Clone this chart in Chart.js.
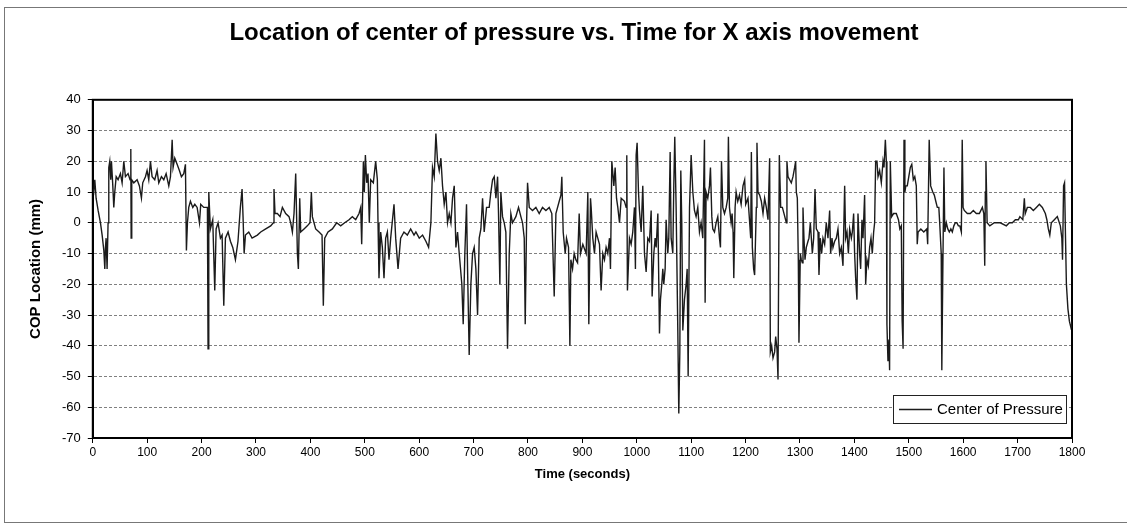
<!DOCTYPE html>
<html>
<head>
<meta charset="utf-8">
<script src="https://cdn.jsdelivr.net/npm/chart.js@4.4.1/dist/chart.umd.min.js"></script>
<style>
  html, body { margin: 0; padding: 0; background: #fff; }
  #wrap { position: relative; width: 1131px; height: 529px; overflow: hidden; }
  #frame { position: absolute; left: 4px; top: 7px; width: 1122px; height: 514px;
           border: 1px solid #777; border-right: none; pointer-events: none; }
</style>
</head>
<body>
<div id="wrap">
  <canvas id="cop" width="1131" height="529"></canvas>
  <div id="frame"></div>
</div>
<script>
// time in seconds
const seconds = [
  0, 1.8, 3.7, 6.1, 9.8, 14.1, 17.2, 20.3, 22.1, 23.3,
  24.5, 26.3, 28.1, 29.4, 31.2, 33, 34.3, 36.8, 38.6, 40.4,
  43, 46.5, 50.8, 53.9, 57, 60, 64.9, 68.5, 69.9, 70.5,
  71.6, 75.4, 81.5, 85.7, 89.4, 91.8, 96.8, 99.8, 102.9, 106,
  109, 113.9, 118.2, 121.3, 126.2, 130.5, 134.8, 139.7, 142.8, 145.9,
  147.6, 150.7, 155, 159.2, 162.9, 167.2, 170.3, 172.1, 174, 176.4,
  179.5, 183.8, 187.5, 191.8, 196.1, 198.4, 204, 208.2, 210.7, 211.9,
  213.2, 216.2, 220.5, 224.2, 226.7, 230.3, 234.6, 237.7, 240.8, 243.8,
  248.7, 253, 257.3, 262.2, 266.9, 271.3, 274.4, 276.2, 278.2, 280.6,
  286.7, 292.8,
  302.5, 308.7, 317.9, 327, 331.9, 333.1, 335, 339.3, 344.2, 348.5,
  354.6, 360.7, 363.8, 366.9, 369.9, 373, 376.1, 377.9, 380.4, 382.2,
  388.3, 394.4, 399.3, 401.8, 403.6, 409.7, 415.9, 421.4, 423.8, 426.3,
  432.4, 440.4, 448.3, 455.7, 463, 471, 477.1, 483.3, 489.4, 492.5,
  494.3, 497.4, 499.1, 501.1, 503.5, 505.9, 508.3, 510.8, 515.7, 520,
  523.1, 524.3, 526.1, 529.2, 532.3, 535.3, 538.4, 541.5, 544.5, 547.6,
  553.7, 556.8, 561.1, 565.9, 572, 578.2, 584.3, 590.5,
  593.9, 600.1, 606.2, 612.3, 617.3, 621.5, 624.5, 627.6, 630.7, 633.7,
  636.8, 639.9, 642.9, 646, 649.1, 652.1, 655.2, 658.3, 661.3, 664.4,
  667.5, 670.5, 673.6, 678.4, 680.9, 683.9, 687, 688.9, 691.9, 695,
  698.1, 701.1, 704.2, 707.3, 710.3, 713.4, 716.5, 719.5, 723.8, 728.7,
  731.8, 734.9, 737.9, 741, 744.1, 745.8, 748.3, 750.1, 753.2, 756.3,
  759.3, 762.4, 765.5, 768.5, 771.6, 777.7, 782.6, 786.9, 790, 793.1,
  794.9, 797.4, 799.2, 802.3, 808.3, 814.5, 820.6, 826.7, 832.9, 839,
  843.8, 848.2, 851.3, 857.4, 860.5, 862.2, 864.7, 868.4, 870.8, 874.5,
  877, 878.8, 881.9, 884.9, 888, 891.1, 894.1,
  896.5, 900.8, 906.9, 910, 911.8, 914.9, 916.1, 919.1, 922.2, 925.2,
  928.3, 931.4, 934.4, 937.5, 940.6, 943.6, 946.7, 949.8, 951.6, 954.1,
  957.8, 960.2, 962.7, 965.1, 968.2, 971.3, 977.3, 980.4, 981.6, 982.8,
  986.5, 989.6, 992.6, 995.7, 997.5, 998.8, 1000.6, 1003.1, 1004.9, 1008,
  1011, 1014.1, 1017.2, 1020.2, 1023.3, 1026.4, 1028.2, 1031.3, 1033.7, 1035.6,
  1038.7, 1041.7, 1043.5, 1045.9, 1047.8, 1049.6, 1052.1, 1053.9, 1057, 1058.8,
  1061.3, 1063.1, 1066.2, 1068, 1069.8, 1072.3, 1075.4, 1077.2, 1079.1, 1080.9,
  1082.7, 1084.6, 1087.6, 1090.7, 1092.6, 1094.4, 1096.9, 1098.7, 1099.9, 1103,
  1106, 1109, 1112.1, 1115.2, 1118.2, 1121.3, 1124.4, 1125.6, 1127.4, 1130.5,
  1133.6, 1135.4, 1137.9, 1139.7, 1142.8, 1145.8, 1148.9, 1152, 1153.8, 1155.7,
  1158.1, 1161.2, 1164.3, 1167.2, 1168.4, 1170.3, 1173.4, 1175.2, 1177, 1178.3,
  1180.7, 1182.6, 1185.6, 1188.7, 1191.8,
  1195.2, 1198.3, 1200.2, 1204.4, 1207.5, 1209.4, 1210.6, 1212.4, 1214.8, 1216.6,
  1219.7, 1220.9, 1222.8, 1225.8, 1228.9, 1232, 1235, 1238.1, 1241.2, 1244.2,
  1245.5, 1247.9, 1250.4, 1253.4, 1255.3, 1257.7, 1259.6, 1262, 1264.5, 1267.6,
  1270.6, 1274.9, 1276, 1277.9, 1280.9, 1284, 1287.1, 1290.2, 1292, 1293.2,
  1295.1, 1296.9, 1298.1, 1300.6, 1302.4, 1304.3, 1305.5, 1307.3, 1309.2, 1311.6,
  1314.7, 1316.5, 1319, 1322.7, 1325.1, 1327.6, 1330, 1333.1, 1334.9, 1337.3,
  1339.8, 1342.2, 1345.3, 1348.3, 1351.4, 1354.5, 1356.3, 1358.8, 1360.6, 1363.7,
  1366.8, 1369.8, 1372.9, 1376, 1379, 1382.1, 1383.9, 1386.4, 1388.9, 1391.3,
  1394.4, 1396.2, 1398.6, 1400.4, 1402.3, 1404.7, 1406.6, 1409.6, 1411.5, 1413.9,
  1415.8, 1418.8, 1420.7, 1423.1, 1425.6, 1428, 1430.5, 1432.9, 1435.4, 1437.2,
  1439.1, 1441.5, 1443.4, 1446.4, 1449.5, 1452.6, 1454.4, 1456.9, 1458.7, 1459.8,
  1461.7, 1463.5, 1464.7, 1466, 1468.5, 1472, 1477, 1481, 1483.5, 1486.2,
  1487.8, 1489.5, 1491.2, 1492.8, 1494.5, 1497.2, 1500, 1502.8, 1505.5, 1508.3,
  1511, 1513.8, 1515.5, 1517.1, 1522.1, 1527.5, 1533.1, 1534.7, 1537.5, 1540.2,
  1544.1, 1546.9, 1549.6, 1552.4, 1555.2, 1556.8, 1559.6, 1560.7, 1562.3, 1564.6,
  1566.2, 1569, 1571.7, 1574.5, 1577.3, 1580, 1582.8, 1585.5, 1588.3, 1591.1,
  1593.8, 1596.6, 1598.2, 1599.8, 1602, 1607.6, 1613.1, 1618.6, 1624.1, 1629.7,
  1635.2, 1637.9, 1639.6, 1640.7, 1641.8, 1644, 1648.9, 1657.2, 1668.2, 1679.3,
  1684.8, 1690.4, 1695.9, 1701.4, 1704.2, 1709.6, 1712.4, 1714, 1717.9, 1723.4,
  1728.9, 1734.5, 1740, 1745.5, 1751, 1753.8, 1756.5, 1759.2, 1762, 1767.5,
  1773, 1778.6, 1781.3, 1782.6, 1784.5, 1786.3, 1788.1, 1789.7, 1792.5, 1795.2,
  1797.9, 1799.3, 1800
];

// COP location in mm, same order as seconds
const copMm = [
  11, 10, 14, 8, 4, 0, -4, -9, -15, -8,
  -5, -15, 0, 18, 20, 14, 20, 12, 5, 10,
  15, 14, 16, 13, 20, 15, 16, 14, 24, -5,
  14, 13, 14, 12, 8, 13, 15, 17, 14, 20,
  15, 14, 17, 13, 15, 14, 16, 12, 15, 27,
  18, 21, 19, 17, 15, 16, 19, -9, 0, 5,
  7, 5, 6, 5, 0, 6, 5, 5, 5, -41,
  10, -2, 1, -22, -2, 0, -5, -4, -27, -5,
  -3, -6, -8, -12, -6, 5, 11, 2, -10, -4,
  -3, -5,
  -4, -3, -2, -1, 0, 11, 3, 3, 2, 5,
  3, 2, 0, -3, 3, 16, -10, -15, 8, -3,
  -2, -1, 0, 10, 2, -2, -3, -4, -27, -5,
  -3, -2, 0, -1, 0, 1, 2, 1, 3, 5,
  -7, 20, 10, 22, 13, 16, 0, 14, 13, 20,
  14, 0, -18, -3, -8, -18, -5, -3, -12, -5,
  6, -5, -15, -5, -3, -4, -2, -4,
  -3, -5, -4, -6, -8, 0, 18, 15, 29, 20,
  17, 21, 12, 6, 10, 0, 3, 0, 8, 12,
  -8, -3, -10, -20, -33, -10, 6, -15, -43, -20,
  -10, -8, -15, -30, -5, -2, 8, -3, 5, 5,
  10, 14, 15, 8, 15, 3, -20, 10, 2, 0,
  -3, -41, -10, 3, 0, 2, 5, 2, 0, -5,
  -33, 0, 13, 5, 4, 5, 3, 5, 4, 5,
  3, -24, 3, 7, 9, 15, -3, -10, -5, -8,
  -40, -12, -15, -10, -12, -13, 3,
  -10, -7, -10, 10, -33, 8, 5, -5, -10, -3,
  -5, -7, -22, -10, -12, -8, -10, -5, -15, 20,
  12, 18, 8, 5, 0, 8, 7, 5, 22, -22,
  -5, -7, -3, 5, -15, 22, 26, 10, 4, -3,
  12, -10, -16, -5, -6, 4, -24, -10, -5, -8,
  3, -36, -25, -20, -15, -20, -15, 1, -10, -5,
  23, -5, -10, 12, 28, 5, -35, -62, -42, 17,
  0, -35, -25, -20, -15, -50, 5, 15, 22, 10,
  4, 2, 5, -3, 0, -5, 27, -26, 10, 8,
  12, 18, 2, -2, -3, 0, 2, -5, -8, 20,
  5, 3, 5, 8, 28, 5, 0, 3, -3, -18,
  5, 10, 7, 9, 6,
  12, 14, 6, 8, 0, -5, 23, -8, -15, -17,
  5, 26, 10, 9, 7, 3, 8, 5, 1, 21,
  -42, -40, -44, -42, -37, -41, -51, 22, 5, 5,
  3, 0, 20, 15, 14, 13, 15, 18, 20, 10,
  8, -12, -39, -10, -12, -13, 5, -5, -12, -8,
  -6, -5, 0, -10, -5, 11, -2, -3, -17, -5,
  -10, -5, -7, 0, -5, 4, -10, -5, -8, -6,
  -5, -2, -10, -8, -14, 12, -5, -3, -10, -2,
  -5, -3, 3, -10, -18, -25, 3, -10, -15, 1,
  -5, 9, -20, -12, -14, -8, -5, -10, -3, 0,
  20, 20, 15, 17, 13, 20, 18, 27, 20, -33,
  -45, -38, -48, 20, 2, 3, 3, 1, -2, -1,
  -32, -41, 27, 10, 12, 12, 15, 18, 19, 14,
  15, 12, -7, -3, -2, -3, -2, -7, 27, 12,
  10, 9, 7, 5, 5, 0, -10, -48, -20, 18,
  -3, 0, -2, -3, -2, -3, -1, 0, 0, -1,
  -1, -3, 27, 5, 4, 3, 3, 4, 3, 3,
  5, 3, -14, 10, 20, 0, -1, 0, 0, -1,
  0, 0, 1, 1, 2, 1, 8, 3, 5, 5,
  4, 5, 6, 5, 3, 1, -2, -4, 0, 1,
  2, -1, -5, -12, 12, 13, -5, -20, -28, -32,
  -34, -33, -34
];

const xRange = [0, 1800];   // seconds, ticks every 100
const yRange = [-70, 40];   // mm, ticks every 10
const xStep = 100;
const yStep = 10;

const FONT = '"Liberation Sans", Arial, sans-serif';

// black box round the plot area
const plotFrame = {
  id: 'plotFrame',
  beforeDatasetsDraw(chart) {
    const { ctx, chartArea: a } = chart;
    ctx.save();
    ctx.strokeStyle = '#000';
    ctx.lineWidth = 2;
    ctx.strokeRect(a.left, a.top, a.right - a.left, a.bottom - a.top);
    ctx.restore();
  }
};

// boxed legend sitting in the lower right corner of the plot
const boxLegend = {
  id: 'boxLegend',
  afterDatasetsDraw(chart) {
    const { ctx, chartArea: a } = chart;
    const ds = chart.data.datasets[0];
    ctx.save();
    ctx.font = '15px ' + FONT;
    const tw = ctx.measureText(ds.label).width;
    const h = 28, w = Math.round(tw + 47);
    const x = Math.round(a.right - 6 - w), y = Math.round(a.bottom - 15 - h);
    ctx.fillStyle = '#fff';
    ctx.fillRect(x, y, w, h);
    ctx.strokeStyle = '#222';
    ctx.lineWidth = 1;
    ctx.strokeRect(x + 0.5, y + 0.5, w, h);
    ctx.strokeStyle = ds.borderColor;
    ctx.lineWidth = 1.3;
    ctx.beginPath();
    ctx.moveTo(x + 6, y + h / 2 + 0.5);
    ctx.lineTo(x + 39, y + h / 2 + 0.5);
    ctx.stroke();
    ctx.fillStyle = '#000';
    ctx.textBaseline = 'middle';
    ctx.fillText(ds.label, x + 44, y + h / 2 + 1);
    ctx.restore();
  }
};

const points = seconds.map((t, i) => ({ x: t, y: copMm[i] }));

new Chart(document.getElementById('cop'), {
  type: 'line',
  data: {
    datasets: [{
      label: 'Center of Pressure',
      data: points,
      yAxisID: 'y',
      borderColor: '#1b1b1b',
      borderWidth: 1.4,
      pointRadius: 0,
      tension: 0,
      fill: false
    }]
  },
  options: {
    responsive: false,
    animation: false,
    layout: { padding: { top: 7, left: 27, right: 10, bottom: 47 } },
    plugins: {
      legend: { display: false },
      tooltip: { enabled: false },
      title: {
        display: true,
        text: 'Location of center of pressure vs. Time for X axis movement',
        color: '#000',
        font: { family: FONT, size: 24, weight: 'bold' },
        padding: { top: 12, bottom: 52 }
      }
    },
    scales: {
      x: {
        type: 'linear',
        min: xRange[0],
        max: xRange[1],
        ticks: {
          stepSize: xStep,
          color: '#000',
          font: { family: FONT, size: 12 },
          padding: 2,
          maxRotation: 0,
          autoSkip: false,
          callback: (v) => String(v)
        },
        grid: { drawOnChartArea: false, drawTicks: true, tickLength: 5, tickColor: '#000' },
        border: { color: '#000', width: 2 },
        title: {
          display: true,
          text: 'Time (seconds)',
          color: '#000',
          font: { family: FONT, size: 13, weight: 'bold' },
          padding: { top: 5, bottom: 0 }
        }
      },
      y: {
        min: yRange[0],
        max: yRange[1],
        ticks: {
          stepSize: yStep,
          color: '#000',
          font: { family: FONT, size: 13 },
          padding: 7
        },
        grid: { color: '#808080', lineWidth: 1, tickLength: 5, tickColor: '#000' },
        border: { color: '#000', width: 2, dash: [3, 2] },
        title: {
          display: true,
          text: 'COP Location (mm)',
          color: '#000',
          font: { family: FONT, size: 15, weight: 'bold' },
          padding: { top: 0, bottom: 10 }
        }
      },
      // empty strip on the right so the plot ends where the original does
      yPad: {
        position: 'right',
        min: yRange[0],
        max: yRange[1],
        ticks: { display: false },
        grid: { display: false, drawTicks: false },
        border: { display: false },
        afterFit: (scale) => { scale.width = 49; }
      }
    }
  },
  plugins: [plotFrame, boxLegend]
});
</script>
</body>
</html>
